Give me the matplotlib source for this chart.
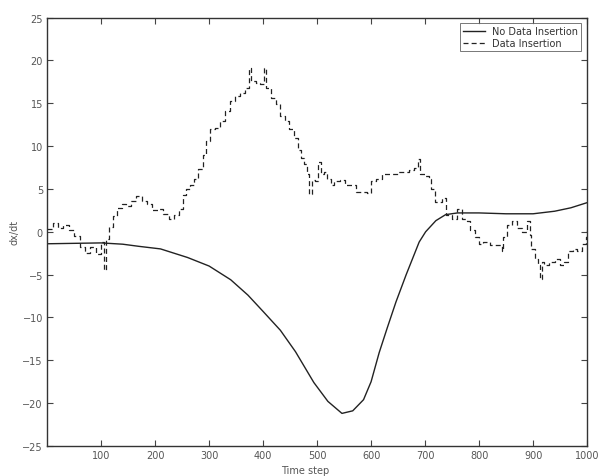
import matplotlib
matplotlib.use("Agg")
import matplotlib.pyplot as plt

# Solid curve: No Data Insertion
x_no = [0, 50, 100, 140, 170, 210, 260, 300, 340, 372, 400, 432, 460, 494, 520, 546,
        566, 586, 600, 615, 630, 646, 665, 689, 701, 720, 738, 760, 800, 850, 900,
        940, 970, 1000]
y_no = [-1.4, -1.35, -1.3, -1.45, -1.7, -2.0, -3.0, -4.0, -5.6, -7.4, -9.3, -11.5,
        -14.0, -17.6, -19.8, -21.2, -20.9, -19.6, -17.5, -14.1, -11.2, -8.2, -5.0,
        -1.2, 0.0, 1.3, 2.0, 2.2, 2.2, 2.1, 2.1, 2.4, 2.8, 3.4]

# Dashed curve: Data Insertion
x_ins = [0, 10, 20, 30, 40, 50, 60, 70, 80, 90, 100, 106, 109, 115, 122, 130, 138,
         146, 155, 165, 175, 185, 195, 205, 215, 225, 235, 245, 252, 258, 265, 272,
         280, 288, 294, 302, 311, 320, 329, 339, 348, 358, 366, 373, 378, 386, 395,
         402, 406, 414, 423, 432, 440, 448, 457, 464, 470, 476, 482, 485, 490, 496,
         502, 507, 512, 518, 525, 532, 542, 552, 562, 572, 582, 592, 600, 610, 620,
         630, 640, 650, 660, 670, 680, 686, 690, 700, 707, 711, 718, 726, 732, 738,
         750, 760, 769, 778, 784, 793, 799, 808, 821, 833, 842, 844, 852, 861, 870,
         879, 888, 894, 897, 903, 909, 912, 916, 921, 930, 940, 949, 958, 964, 973,
         982, 991, 998, 1000]
y_ins = [0.3, 1.0, 0.4, 0.8, 0.2, -0.5, -1.8, -2.5, -1.8, -2.6, -1.2, -4.5, -0.8,
         0.5, 1.8, 2.8, 3.3, 3.0, 3.6, 4.2, 3.6, 3.2, 2.6, 2.7, 2.1, 1.5, 2.0, 2.7,
         4.3, 5.0, 5.5, 6.2, 7.3, 9.0, 10.6, 12.0, 12.1, 12.9, 14.1, 15.3, 15.8, 16.2,
         16.8, 19.1, 17.6, 17.4, 17.2, 19.1, 16.8, 15.6, 14.9, 13.5, 12.9, 12.0, 10.9,
         9.6, 8.6, 7.9, 6.7, 4.4, 6.1, 5.9, 8.2, 6.7, 7.0, 6.2, 5.5, 5.9, 6.1, 5.5,
         5.5, 4.7, 4.7, 4.5, 5.9, 6.2, 6.7, 6.8, 6.8, 7.0, 7.0, 7.2, 7.4, 8.5, 6.7,
         6.5, 6.2, 5.0, 3.5, 3.5, 3.9, 2.0, 1.5, 2.7, 1.5, 1.2, 0.2, -0.6, -1.4, -1.2,
         -1.5, -1.5, -2.3, -0.6, 0.8, 1.2, 0.4, 0.0, 1.2, -0.4, -2.0, -3.2, -3.9,
         -5.5, -3.5, -3.9, -3.5, -3.2, -3.9, -3.5, -2.3, -2.0, -2.3, -1.4, -0.6, 0.2]

x_ticks = [100, 200, 300, 400, 500, 600, 700, 800, 900, 1000]
y_ticks = [-25, -20, -15, -10, -5, 0, 5, 10, 15, 20, 25]

assert len(x_ins) == len(y_ins)
assert len(x_no) == len(y_no)

fig = plt.figure(figsize=(6.04, 4.77), dpi=100)
ax = fig.add_axes([0.078, 0.063, 0.894, 0.898])

line_col = '#222222'
ax.plot(x_no, y_no, color=line_col, lw=1.0, label='No Data Insertion')
ax.plot(x_ins, y_ins, color=line_col, lw=0.9, linestyle=(0, (4, 2.5)),
        drawstyle='steps-post', label='Data Insertion')

ax.set_xlim(0, 1000)
ax.set_ylim(-25, 25)
ax.set_xticks(x_ticks)
ax.set_yticks(y_ticks)
ax.tick_params(direction='in', top=True, right=True, length=4, width=0.8,
               labelsize=7, colors='#444444', labelcolor='#555555', pad=3)
for s in ax.spines.values():
    s.set_color('#333333')
    s.set_linewidth(1.0)

ax.set_ylabel('dx/dt', fontsize=7, color='#555555', labelpad=2)
fig.text(0.505, 0.024, 'Time step', fontsize=7, color='#555555',
         ha='center', va='top')

leg = ax.legend(loc='upper right', fontsize=7, frameon=True, fancybox=False,
                borderaxespad=0.6, handlelength=2.2, labelspacing=0.2,
                borderpad=0.3)
leg.get_frame().set_edgecolor('#555555')
leg.get_frame().set_linewidth(0.7)
for t in leg.get_texts():
    t.set_color('#333333')

fig.savefig('out.png', dpi=100)
